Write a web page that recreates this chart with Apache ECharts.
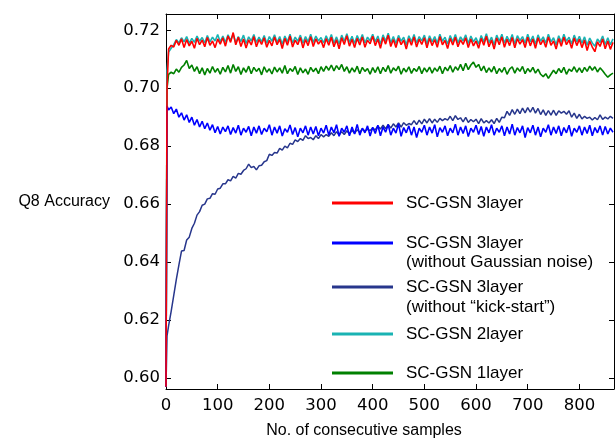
<!DOCTYPE html>
<html>
<head>
<meta charset="utf-8">
<script src="https://cdn.jsdelivr.net/npm/echarts@6/dist/echarts.min.js"></script>
<style>html,body{margin:0;padding:0;background:#fff;}#c{width:615px;height:444px;}</style>
</head>
<body>
<div id="c"></div>
<script>
// x positions (number of consecutive samples)
const samples = [0, 2, 5, 10];
for (let s = 15; s <= 865; s += 5) samples.push(s);

const xTicks = [0, 100, 200, 300, 400, 500, 600, 700, 800];
const yTicks = [0.60, 0.62, 0.64, 0.66, 0.68, 0.70, 0.72];

const seriesNames = [
  'SC-GSN 3layer',
  'SC-GSN 3layer (without Gaussian noise)',
  'SC-GSN 3layer (without \u201ckick-start\u201d)',
  'SC-GSN 2layer',
  'SC-GSN 1layer'
];

const red3 = [0.597, 0.700, 0.7135, 0.7148,
  .7142,.7165,.7148,.7170,.7140,.7168,.7146,.7162,.7138,.7172,.7150,.7166,.7143,.7175,.7148,.7163,.7140,.7170,
  .7152,.7174,.7145,.7180,.7158,.7192,.7150,.7176,.7144,.7170,.7139,.7167,.7149,.7178,.7143,.7168,.7151,.7174,.7141,.7165,
  .7146,.7177,.7150,.7169,.7137,.7172,.7148,.7180,.7142,.7166,.7150,.7175,.7139,.7168,.7147,.7178,.7144,.7170,.7152,.7165,
  .7140,.7171,.7148,.7176,.7143,.7167,.7136,.7174,.7151,.7181,.7145,.7169,.7140,.7172,.7149,.7177,.7141,.7166,.7153,.7179,
  .7147,.7170,.7138,.7175,.7152,.7183,.7144,.7168,.7140,.7173,.7150,.7166,.7135,.7171,.7148,.7177,.7142,.7169,.7151,.7174,
  .7139,.7172,.7147,.7168,.7141,.7178,.7150,.7165,.7137,.7172,.7149,.7176,.7143,.7167,.7151,.7174,.7140,.7170,.7146,.7163,
  .7138,.7172,.7148,.7179,.7143,.7166,.7135,.7173,.7150,.7177,.7141,.7169,.7147,.7175,.7139,.7171,.7152,.7168,.7140,.7176,
  .7146,.7170,.7138,.7174,.7150,.7167,.7141,.7177,.7148,.7163,.7135,.7171,.7145,.7176,.7150,.7166,.7138,.7173,.7147,.7169,
  .7140,.7166,.7130,.7162,.7142,.7126,.7160,.7144,.7170,.7136,.7163,.7134,.7158];

const blueNoNoise = [0.597, 0.6938, 0.6925, 0.6935,
  .6912,.6928,.6900,.6915,.6890,.6908,.6882,.6900,.6872,.6892,.6866,.6886,.6860,.6880,.6855,.6874,.6846,.6868,
  .6842,.6866,.6850,.6870,.6840,.6864,.6845,.6872,.6838,.6862,.6848,.6868,.6836,.6866,.6845,.6870,.6840,.6862,.6850,.6874,
  .6838,.6866,.6845,.6870,.6835,.6860,.6848,.6873,.6840,.6864,.6832,.6862,.6846,.6870,.6838,.6866,.6842,.6868,.6836,.6862,
  .6845,.6872,.6838,.6866,.6846,.6874,.6834,.6862,.6848,.6870,.6836,.6866,.6842,.6875,.6838,.6862,.6846,.6870,.6835,.6865,
  .6844,.6872,.6836,.6866,.6848,.6874,.6838,.6862,.6845,.6877,.6834,.6864,.6846,.6870,.6838,.6866,.6830,.6862,.6848,.6872,
  .6838,.6866,.6845,.6874,.6832,.6864,.6848,.6870,.6836,.6862,.6846,.6876,.6838,.6866,.6844,.6870,.6833,.6862,.6848,.6872,
  .6840,.6868,.6834,.6866,.6846,.6874,.6838,.6862,.6848,.6870,.6836,.6866,.6842,.6876,.6838,.6864,.6846,.6870,.6830,.6864,
  .6846,.6872,.6838,.6866,.6832,.6862,.6848,.6874,.6838,.6866,.6844,.6870,.6836,.6864,.6846,.6872,.6834,.6862,.6848,.6870,
  .6838,.6866,.6844,.6872,.6836,.6864,.6846,.6870,.6838,.6868,.6842,.6862,.6848];

const navyNoKick = [0.597, 0.6145, 0.6180, 0.6230,
  .6285,.6340,.6390,.6438,.6440,.6476,.6486,.6516,.6534,.6562,.6574,.6596,.6600,.6618,.6620,.6636,.6634,.6652,
  .6655,.6670,.6670,.6684,.6680,.6696,.6690,.6706,.6703,.6716,.6722,.6738,.6726,.6730,.6718,.6732,.6734,.6746,.6750,.6772,
  .6768,.6778,.6776,.6792,.6786,.6800,.6794,.6810,.6806,.6822,.6816,.6826,.6820,.6836,.6826,.6830,.6822,.6836,.6826,.6840,
  .6832,.6840,.6834,.6846,.6836,.6850,.6838,.6850,.6840,.6853,.6842,.6855,.6844,.6857,.6847,.6860,.6852,.6858,.6854,.6862,
  .6856,.6870,.6859,.6872,.6860,.6875,.6862,.6877,.6866,.6880,.6866,.6881,.6872,.6878,.6874,.6888,.6874,.6890,.6877,.6893,
  .6880,.6895,.6880,.6893,.6882,.6896,.6888,.6895,.6890,.6903,.6888,.6905,.6892,.6898,.6884,.6899,.6882,.6892,.6884,.6893,
  .6878,.6895,.6880,.6888,.6880,.6891,.6878,.6896,.6882,.6900,.6898,.6920,.6906,.6926,.6910,.6928,.6912,.6931,.6915,.6933,
  .6917,.6934,.6914,.6930,.6909,.6925,.6906,.6923,.6907,.6924,.6906,.6922,.6914,.6920,.6910,.6922,.6900,.6914,.6896,.6910,
  .6894,.6903,.6896,.6900,.6890,.6899,.6891,.6908,.6892,.6900,.6894,.6903,.6896];

const cyan2 = [0.597, 0.706, 0.7125, 0.7138,
  .7150,.7168,.7156,.7174,.7160,.7178,.7155,.7172,.7158,.7180,.7162,.7175,.7156,.7182,.7160,.7176,.7163,.7185,
  .7160,.7180,.7158,.7184,.7165,.7186,.7157,.7178,.7161,.7183,.7154,.7177,.7163,.7185,.7158,.7176,.7160,.7182,.7155,.7178,
  .7162,.7184,.7158,.7178,.7152,.7180,.7160,.7186,.7156,.7176,.7162,.7183,.7155,.7178,.7160,.7186,.7158,.7180,.7163,.7175,
  .7156,.7181,.7160,.7185,.7155,.7177,.7152,.7183,.7162,.7188,.7158,.7179,.7154,.7182,.7161,.7185,.7156,.7176,.7164,.7186,
  .7160,.7180,.7152,.7184,.7162,.7190,.7157,.7178,.7154,.7182,.7162,.7176,.7150,.7181,.7160,.7185,.7156,.7178,.7163,.7183,
  .7153,.7181,.7160,.7178,.7155,.7186,.7162,.7176,.7152,.7182,.7160,.7185,.7156,.7177,.7163,.7184,.7154,.7180,.7160,.7174,
  .7152,.7182,.7160,.7188,.7157,.7176,.7150,.7183,.7162,.7186,.7155,.7179,.7160,.7185,.7153,.7181,.7164,.7178,.7155,.7186,
  .7160,.7180,.7152,.7184,.7162,.7177,.7155,.7186,.7160,.7174,.7150,.7181,.7158,.7186,.7162,.7176,.7153,.7183,.7160,.7179,
  .7155,.7177,.7148,.7173,.7156,.7145,.7170,.7158,.7180,.7151,.7174,.7150,.7170];

const green1 = [0.597, 0.700, 0.7048, 0.7055,
  .7050,.7066,.7055,.7072,.7080,.7096,.7068,.7080,.7058,.7074,.7050,.7070,.7046,.7068,.7052,.7075,.7055,.7068,
  .7048,.7072,.7056,.7078,.7052,.7082,.7058,.7074,.7047,.7070,.7055,.7076,.7050,.7072,.7058,.7069,.7046,.7074,.7055,.7067,
  .7049,.7073,.7056,.7070,.7052,.7078,.7050,.7068,.7058,.7075,.7047,.7070,.7053,.7066,.7048,.7072,.7057,.7069,.7050,.7074,
  .7058,.7076,.7062,.7080,.7060,.7078,.7064,.7082,.7058,.7074,.7052,.7070,.7056,.7076,.7050,.7072,.7058,.7068,.7048,.7071,
  .7054,.7074,.7050,.7072,.7057,.7078,.7052,.7070,.7060,.7076,.7048,.7069,.7056,.7074,.7051,.7068,.7058,.7075,.7050,.7070,
  .7056,.7073,.7052,.7070,.7058,.7076,.7050,.7072,.7060,.7078,.7055,.7074,.7062,.7082,.7060,.7086,.7064,.7080,.7090,.7072,
  .7082,.7060,.7076,.7054,.7070,.7056,.7075,.7050,.7068,.7055,.7072,.7048,.7066,.7074,.7052,.7070,.7058,.7075,.7050,.7068,
  .7056,.7072,.7052,.7066,.7048,.7040,.7050,.7034,.7048,.7062,.7050,.7068,.7054,.7072,.7048,.7066,.7058,.7074,.7055,.7070,
  .7054,.7072,.7058,.7076,.7062,.7074,.7056,.7070,.7060,.7048,.7038,.7046,.7052];

const colors = ['#ff0000', '#0000ff', '#27368c', '#1ab3b3', '#008000'];
const valueLists = [red3, blueNoNoise, navyNoKick, cyan2, green1];
const zOrder = [6, 5, 4, 3, 2];

function pairs(vals) { return samples.map((s, i) => [s, vals[i]]); }

const chart = echarts.init(document.getElementById('c'), null, {renderer: 'canvas'});

const tickFont = {fontFamily: 'DejaVu Sans', fontSize: 16.5, color: '#000'};
const textFont = 'Liberation Sans';

const legendTops = [203, 243, 287, 334, 373];
const legendFirstLines = ['SC-GSN 3layer', 'SC-GSN 3layer', 'SC-GSN 3layer', 'SC-GSN 2layer', 'SC-GSN 1layer'];

const legends = seriesNames.map((n, i) => ({
  data: [{name: n, icon: 'rect', itemStyle: {color: colors[i]}}],
  left: 332, top: legendTops[i] - 9, padding: 0,
  itemWidth: 61, itemHeight: 3,
  formatter: () => legendFirstLines[i],
  textStyle: {fontFamily: textFont, fontSize: 17, color: '#000', lineHeight: 18, padding: [0, 0, 0, 8]},
  selectedMode: false
}));

const Y_MIN = 0.5962, Y_MAX = 0.7256;

const option = {
  animation: false,
  backgroundColor: '#fff',
  grid: {left: 166, right: 1, top: 14, bottom: 47, containLabel: false},
  xAxis: [{
    type: 'value', min: 0, max: 867, interval: 100,
    axisLine: {show: true, onZero: false, lineStyle: {color: '#000', width: 1}},
    axisTick: {show: true, inside: true, length: 5, lineStyle: {color: '#000'}},
    axisLabel: {...tickFont, margin: 8, showMaxLabel: false, formatter: v => xTicks.includes(v) ? String(v) : ''},
    splitLine: {show: false},
    name: 'No. of consecutive samples', nameLocation: 'middle', nameGap: 34,
    nameTextStyle: {fontFamily: textFont, fontSize: 16, color: '#000', padding: [0, 52, 0, 0]}
  }, {
    type: 'value', position: 'top', min: 0, max: 867, interval: 100,
    axisLine: {show: true, onZero: false, lineStyle: {color: '#000', width: 1}},
    axisTick: {show: true, inside: true, length: 5, lineStyle: {color: '#000'}},
    axisLabel: {show: false}, splitLine: {show: false}
  }],
  yAxis: [{
    type: 'value', min: Y_MIN, max: Y_MAX,
    axisLine: {show: true, onZero: false, lineStyle: {color: '#000', width: 1}},
    axisTick: {show: true, inside: true, length: 5, customValues: yTicks, lineStyle: {color: '#000'}},
    axisLabel: {...tickFont, margin: 6, customValues: yTicks, formatter: v => v.toFixed(2)},
    splitLine: {show: false},
    name: 'Q8 Accuracy', nameLocation: 'middle', nameRotate: 0, nameGap: 56,
    nameTextStyle: {fontFamily: textFont, fontSize: 16, color: '#000'}
  }, {
    type: 'value', position: 'right', min: Y_MIN, max: Y_MAX,
    axisLine: {show: true, onZero: false, lineStyle: {color: '#000', width: 1}},
    axisTick: {show: true, inside: true, length: 5, customValues: yTicks, lineStyle: {color: '#000'}},
    axisLabel: {show: false}, splitLine: {show: false}
  }],
  legend: legends,
  graphic: [
    {type: 'text', left: 406, top: 254, style: {text: '(without Gaussian noise)', font: '17px "Liberation Sans"', fill: '#000'}},
    {type: 'text', left: 406, top: 299, style: {text: '(without \u201ckick-start\u201d)', font: '17px "Liberation Sans"', fill: '#000'}}
  ],
  series: seriesNames.map((n, i) => ({
    name: n, type: 'line', xAxisIndex: 0, yAxisIndex: 0,
    data: pairs(valueLists[i]),
    showSymbol: false, symbol: 'none', z: zOrder[i],
    itemStyle: {color: colors[i]},
    lineStyle: {color: colors[i], width: i === 2 ? 1.5 : 1.6},
    clip: true
  }))
};
chart.setOption(option);
</script>
</body>
</html>
